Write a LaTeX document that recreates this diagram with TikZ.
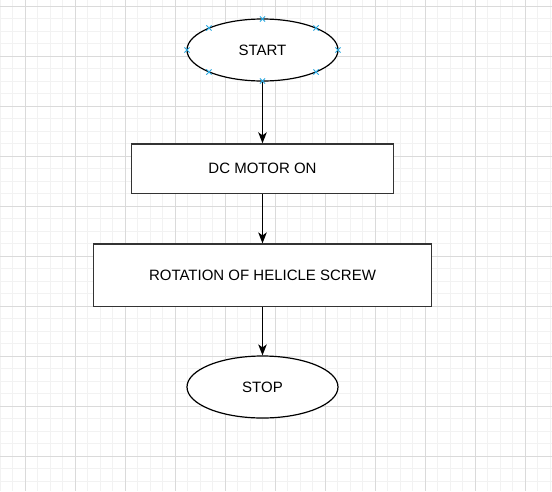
\documentclass[tikz,border=0pt]{standalone}
\usepackage{fontspec}
\setmainfont{Liberation Sans}
\usetikzlibrary{shapes.geometric,arrows.meta}
\definecolor{minorgrid}{HTML}{F2F2F2}
\definecolor{majorgrid}{HTML}{DADADA}
\definecolor{handle}{HTML}{29A8E0}
\tikzset{
  minorline/.style={draw=minorgrid,line width=0.9pt},
  majorline/.style={draw=majorgrid,line width=0.9pt},
  ellnode/.style={ellipse,draw=black,line width=1.2pt,fill=white,minimum width=151pt,minimum height=62pt,inner sep=0pt,font=\fontsize{15}{18}\selectfont},
  boxnode/.style={rectangle,draw=black!80,line width=1.3pt,fill=white,inner sep=0pt,font=\fontsize{15}{18}\selectfont},
  flowarrow/.style={draw=black,line width=1.3pt,-{Stealth[length=11pt,width=8.5pt,inset=3pt]}},
  handlemark/.style={draw=handle,line width=0.9pt}
}
\begin{document}
\begin{tikzpicture}[x=1pt,y=-1pt]
\useasboundingbox (0,0) rectangle (552,491);
\fill[white] (0,0) rectangle (552,491);
% grid
\foreach \i in {0,...,44} \draw[minorline] (12.5*\i,0) -- (12.5*\i,491);
\foreach \i in {0,...,39} \draw[minorline] (0,6+12.5*\i) -- (552,6+12.5*\i);
\foreach \i in {0,...,10} \draw[majorline] (25+50*\i,0) -- (25+50*\i,491);
\foreach \i in {0,...,9} \draw[majorline] (0,6+50*\i) -- (552,6+50*\i);
% nodes
\node[ellnode] (start) at (262.5,50) {START};
\node[boxnode,minimum width=262pt,minimum height=49.5pt] (motor) at (262.5,168.7) {DC MOTOR ON};
\node[boxnode,minimum width=338.5pt,minimum height=62.3pt] (rot) at (262.5,275.2) {ROTATION OF HELICLE SCREW};
\node[ellnode] (stop) at (262.5,387) {STOP};
% connectors
\draw[flowarrow] (start.south) -- (motor.north);
\draw[flowarrow] (motor.south) -- (rot.north);
\draw[flowarrow] (rot.south) -- (stop.north);
% selection handles on START
\foreach \dx/\dy in {0/-31,0/31,-75.5/0,75.5/0,-53.6/-22,53.6/-22,-53.6/22,53.6/22} {
  \path ([shift={(\dx,\dy)}]start.center) coordinate (h);
  \draw[handlemark] ([shift={(-2.6,-2.6)}]h) -- ([shift={(2.6,2.6)}]h)
                    ([shift={(-2.6,2.6)}]h) -- ([shift={(2.6,-2.6)}]h);
}
\end{tikzpicture}
\end{document}
